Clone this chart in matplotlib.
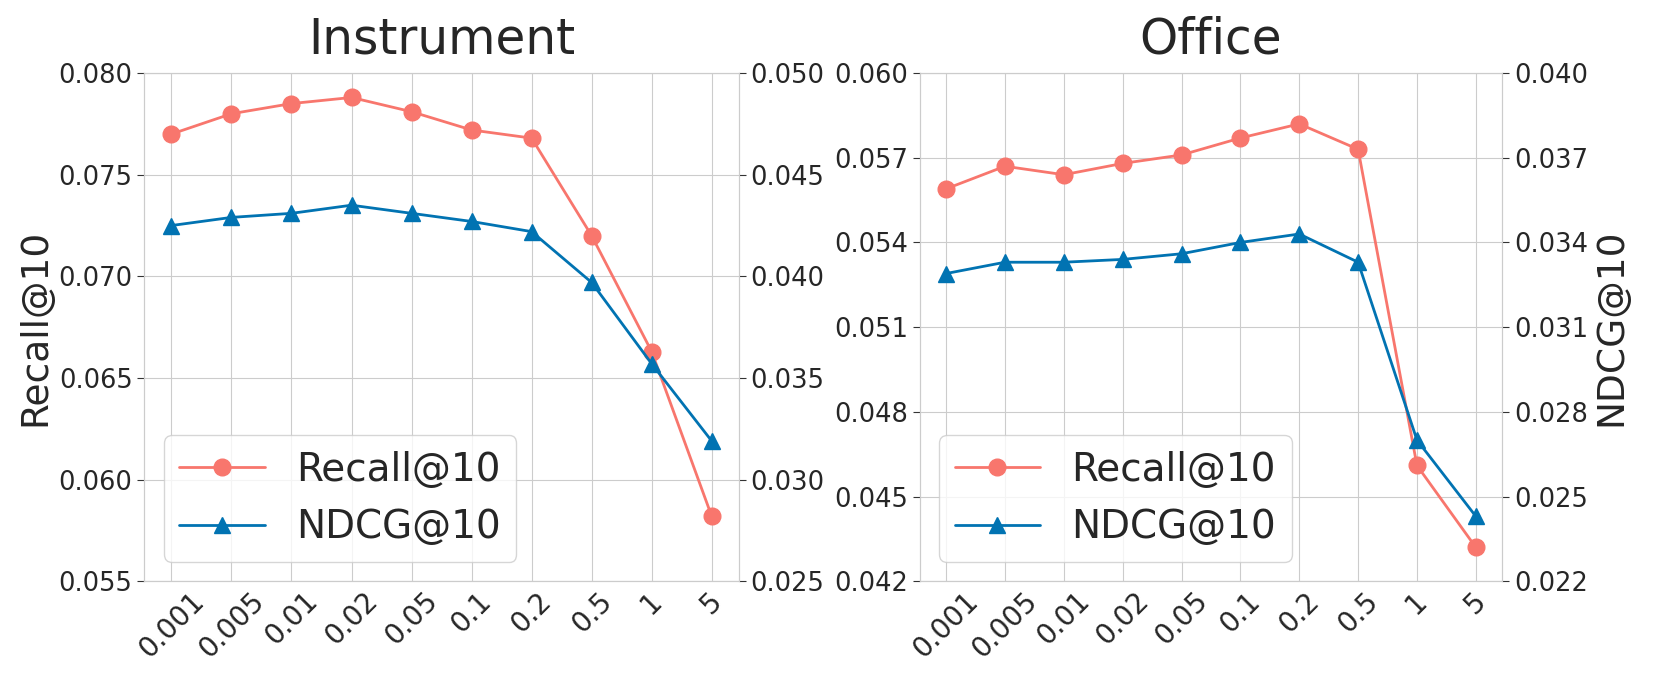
import numpy as np
import matplotlib.pyplot as plt
import seaborn as sns

sns.set_style("whitegrid")
plt.rcParams['font.family'] = ['DejaVu Sans']

# Data
x_labels = ['0.001', '0.005', '0.01', '0.02', '0.05', '0.1', '0.2', '0.5', '1', '5']

instrument_recall = [0.0770, 0.0780, 0.0785, 0.0788, 0.0781, 0.0772, 0.0768, 0.0720, 0.0663, 0.0582]
instrument_ndcg = [0.0425, 0.0429, 0.0431, 0.0435, 0.0431, 0.0427, 0.0422, 0.0397, 0.0357, 0.0319]

office_recall = [0.0559, 0.0567, 0.0564, 0.0568, 0.0571, 0.0577, 0.0582, 0.0573, 0.0461, 0.0432]
office_ndcg = [0.0329, 0.0333, 0.0333, 0.0334, 0.0336, 0.0340, 0.0343, 0.0333, 0.0270, 0.0243]

red = '#F8766D'
blue = '#0173B2'


def plot_panel(ax, title, recall, ndcg, left_ticks, right_ticks, show_left_label, show_right_label):
    x = np.arange(len(x_labels))
    ax2 = ax.twinx()
    l1, = ax.plot(x, recall, '-o', color=red, lw=2, markersize=12, label='Recall@10')
    l2, = ax2.plot(x, ndcg, '-^', color=blue, lw=2, markersize=12, label='NDCG@10')

    ax.set_ylim(left_ticks[0], left_ticks[-1])
    ax.set_yticks(left_ticks)
    ax.set_yticklabels(['%.3f' % v for v in left_ticks])
    ax2.set_ylim(right_ticks[0], right_ticks[-1])
    ax2.set_yticks(right_ticks)
    ax2.set_yticklabels(['%.3f' % v for v in right_ticks])
    ax2.grid(False)

    ax.set_xticks(x)
    ax.set_xticklabels(x_labels, rotation=45, fontsize=20)
    ax.tick_params(axis='y', labelsize=18.5, length=5, color='#333333', left=True)
    ax2.tick_params(axis='y', labelsize=18.5, length=5, color='#333333', right=True)
    ax.tick_params(axis='x', length=0, pad=4)

    for a in (ax, ax2):
        for s in a.spines.values():
            s.set_color('#cccccc')

    ax.set_title(title, fontsize=35, pad=14)
    if show_left_label:
        ax.set_ylabel('Recall@10', fontsize=27)
    if show_right_label:
        ax2.set_ylabel('NDCG@10', fontsize=27)

    ax.legend(handles=[l1, l2], loc='lower left', fontsize=28, frameon=True,
              handlelength=2.2)


fig = plt.figure(figsize=(16.6, 6.83), dpi=100)
ax_left = fig.add_axes([0.087, 0.149, 0.358, 0.744])
ax_right = fig.add_axes([0.554, 0.149, 0.351, 0.744])

plot_panel(ax_left, 'Instrument', instrument_recall, instrument_ndcg,
           np.arange(0.055, 0.0801, 0.005), np.arange(0.025, 0.0501, 0.005), True, False)
plot_panel(ax_right, 'Office', office_recall, office_ndcg,
           np.arange(0.042, 0.0601, 0.003), np.arange(0.022, 0.0401, 0.003), False, True)

plt.savefig('out.png', dpi=100)
